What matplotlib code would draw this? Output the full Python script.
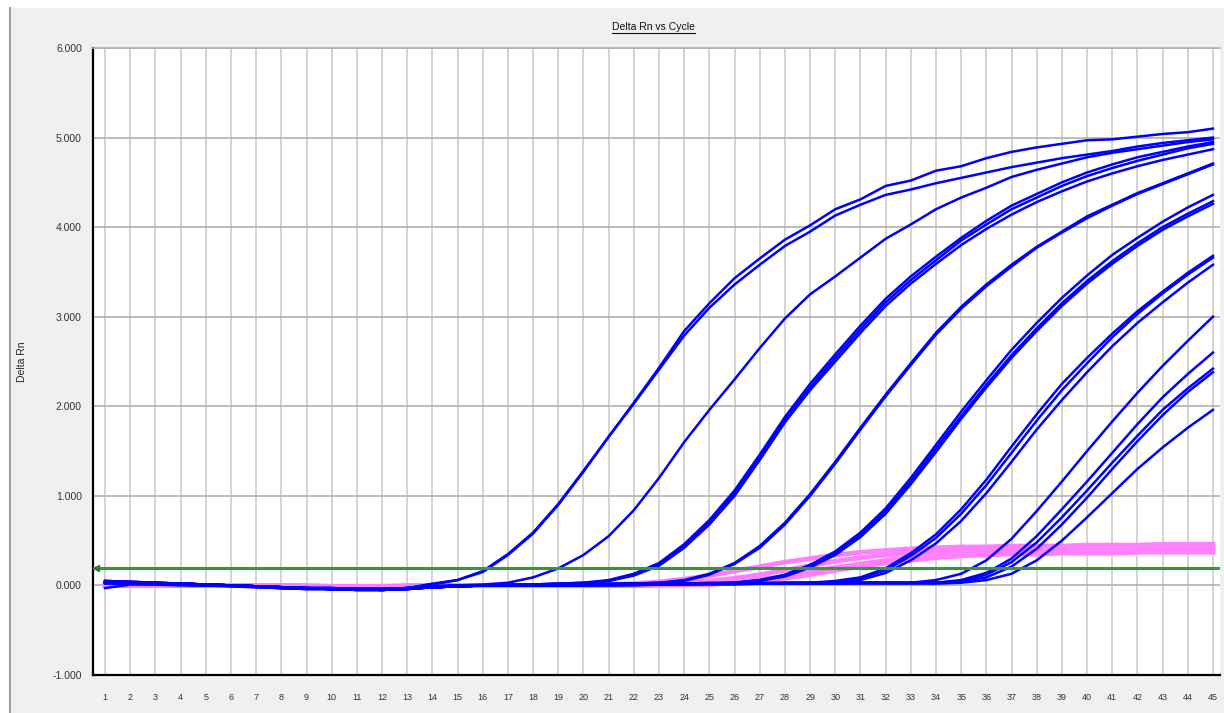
import numpy as np
import matplotlib.pyplot as plt
from matplotlib.patches import Rectangle
from matplotlib.lines import Line2D
from matplotlib.ticker import FormatStrFormatter

# Delta Rn per cycle (1..45), one list per well
cycles = np.arange(1, 46)
threshold = 0.2

A1 = [0.05, 0.04, 0.03, 0.02, 0.01,
      0.00, -0.01, -0.02, -0.03, -0.04,
      -0.05, -0.05, -0.03, 0.01, 0.06,
      0.15, 0.34, 0.58, 0.90, 1.27,
      1.66, 2.04, 2.43, 2.84, 3.15,
      3.43, 3.65, 3.86, 4.02, 4.20,
      4.31, 4.46, 4.52, 4.63, 4.68,
      4.77, 4.84, 4.89, 4.93, 4.97,
      4.98, 5.01, 5.04, 5.06, 5.10]
A2 = [0.04, 0.03, 0.03, 0.02, 0.01,
      0.00, -0.01, -0.03, -0.04, -0.04,
      -0.05, -0.05, -0.03, 0.02, 0.06,
      0.16, 0.35, 0.59, 0.91, 1.28,
      1.66, 2.03, 2.41, 2.79, 3.10,
      3.36, 3.58, 3.79, 3.95, 4.13,
      4.25, 4.36, 4.42, 4.49, 4.55,
      4.61, 4.67, 4.72, 4.77, 4.81,
      4.85, 4.90, 4.94, 4.97, 5.00]
B1 = [0.04, 0.04, 0.03, 0.02, 0.01,
      0.00, -0.01, -0.02, -0.03, -0.04,
      -0.04, -0.05, -0.03, -0.01, 0.00,
      0.01, 0.03, 0.09, 0.19, 0.34,
      0.55, 0.84, 1.20, 1.60, 1.96,
      2.30, 2.65, 2.98, 3.25, 3.45,
      3.66, 3.87, 4.03, 4.20, 4.33,
      4.44, 4.56, 4.64, 4.71, 4.78,
      4.83, 4.87, 4.91, 4.95, 4.98]
C1 = [0.05, 0.04, 0.03, 0.02, 0.01,
      -0.01, -0.02, -0.03, -0.04, -0.04,
      -0.05, -0.05, -0.04, -0.01, 0.00,
      0.00, 0.01, 0.01, 0.02, 0.03,
      0.06, 0.13, 0.25, 0.46, 0.73,
      1.06, 1.46, 1.88, 2.25, 2.58,
      2.90, 3.20, 3.45, 3.67, 3.88,
      4.07, 4.24, 4.37, 4.50, 4.61,
      4.70, 4.78, 4.84, 4.90, 4.95]
C2 = [0.04, 0.03, 0.02, 0.02, 0.01,
      0.00, -0.01, -0.03, -0.03, -0.04,
      -0.05, -0.05, -0.03, -0.01, 0.00,
      0.00, 0.01, 0.01, 0.02, 0.03,
      0.05, 0.12, 0.24, 0.44, 0.71,
      1.03, 1.43, 1.85, 2.21, 2.54,
      2.86, 3.16, 3.41, 3.63, 3.85,
      4.03, 4.20, 4.33, 4.46, 4.57,
      4.66, 4.74, 4.81, 4.88, 4.93]
C3 = [0.03, 0.03, 0.02, 0.01, 0.01,
      0.00, -0.02, -0.03, -0.04, -0.04,
      -0.04, -0.05, -0.04, -0.02, 0.00,
      0.00, 0.00, 0.01, 0.02, 0.02,
      0.05, 0.11, 0.22, 0.42, 0.68,
      1.00, 1.40, 1.82, 2.18, 2.50,
      2.82, 3.12, 3.37, 3.59, 3.80,
      3.98, 4.14, 4.28, 4.40, 4.51,
      4.60, 4.68, 4.75, 4.81, 4.87]
D1 = [0.04, 0.03, 0.02, 0.02, 0.01,
      0.00, -0.01, -0.02, -0.03, -0.04,
      -0.04, -0.05, -0.04, -0.02, -0.01,
      0.00, 0.00, 0.01, 0.01, 0.01,
      0.02, 0.02, 0.03, 0.06, 0.13,
      0.25, 0.44, 0.70, 1.02, 1.38,
      1.76, 2.13, 2.48, 2.82, 3.11,
      3.36, 3.58, 3.78, 3.95, 4.12,
      4.25, 4.38, 4.49, 4.60, 4.71]
D2 = [0.03, 0.03, 0.02, 0.01, 0.00,
      0.00, -0.01, -0.02, -0.03, -0.03,
      -0.04, -0.04, -0.03, -0.02, -0.01,
      0.00, 0.00, 0.00, 0.01, 0.01,
      0.01, 0.02, 0.03, 0.05, 0.12,
      0.24, 0.42, 0.68, 1.00, 1.36,
      1.74, 2.11, 2.46, 2.80, 3.09,
      3.34, 3.56, 3.77, 3.94, 4.10,
      4.24, 4.37, 4.48, 4.59, 4.70]
E1 = [0.05, 0.04, 0.03, 0.02, 0.01,
      0.00, -0.01, -0.02, -0.03, -0.04,
      -0.05, -0.05, -0.04, -0.02, -0.01,
      0.00, 0.00, 0.01, 0.01, 0.01,
      0.02, 0.02, 0.02, 0.02, 0.03,
      0.03, 0.06, 0.12, 0.23, 0.38,
      0.59, 0.86, 1.20, 1.57, 1.94,
      2.29, 2.63, 2.93, 3.21, 3.46,
      3.69, 3.88, 4.06, 4.22, 4.36]
E2 = [0.04, 0.03, 0.02, 0.02, 0.01,
      0.00, -0.01, -0.02, -0.03, -0.04,
      -0.04, -0.05, -0.04, -0.02, -0.01,
      0.00, 0.00, 0.00, 0.01, 0.01,
      0.01, 0.02, 0.02, 0.02, 0.02,
      0.03, 0.06, 0.11, 0.21, 0.36,
      0.56, 0.83, 1.16, 1.53, 1.89,
      2.24, 2.57, 2.87, 3.15, 3.40,
      3.62, 3.82, 4.00, 4.15, 4.29]
E3 = [0.03, 0.03, 0.02, 0.01, 0.01,
      0.00, -0.01, -0.03, -0.03, -0.04,
      -0.04, -0.04, -0.03, -0.02, -0.01,
      0.00, 0.00, 0.00, 0.00, 0.01,
      0.01, 0.01, 0.02, 0.02, 0.02,
      0.03, 0.05, 0.10, 0.20, 0.34,
      0.54, 0.80, 1.13, 1.49, 1.86,
      2.21, 2.54, 2.84, 3.12, 3.37,
      3.59, 3.79, 3.97, 4.12, 4.26]
F1 = [0.04, 0.03, 0.02, 0.02, 0.01,
      0.00, -0.01, -0.02, -0.03, -0.04,
      -0.04, -0.05, -0.04, -0.02, -0.01,
      0.00, 0.00, 0.00, 0.01, 0.01,
      0.01, 0.02, 0.02, 0.02, 0.02,
      0.02, 0.03, 0.03, 0.03, 0.05,
      0.09, 0.19, 0.36, 0.57, 0.85,
      1.18, 1.55, 1.91, 2.25, 2.54,
      2.81, 3.06, 3.28, 3.49, 3.68]
F2 = [0.03, 0.03, 0.02, 0.01, 0.01,
      0.00, -0.01, -0.02, -0.03, -0.03,
      -0.04, -0.04, -0.03, -0.02, -0.01,
      0.00, 0.00, 0.00, 0.00, 0.01,
      0.01, 0.01, 0.02, 0.02, 0.02,
      0.02, 0.02, 0.03, 0.03, 0.04,
      0.08, 0.17, 0.33, 0.53, 0.80,
      1.12, 1.48, 1.84, 2.18, 2.48,
      2.77, 3.03, 3.26, 3.47, 3.66]
F3 = [0.03, 0.02, 0.02, 0.01, 0.00,
      0.00, -0.01, -0.02, -0.03, -0.03,
      -0.04, -0.04, -0.03, -0.02, -0.01,
      0.00, 0.00, 0.00, 0.00, 0.00,
      0.01, 0.01, 0.01, 0.02, 0.02,
      0.02, 0.02, 0.02, 0.02, 0.03,
      0.06, 0.14, 0.28, 0.47, 0.72,
      1.03, 1.38, 1.74, 2.07, 2.38,
      2.67, 2.93, 3.16, 3.38, 3.58]
G1 = [0.04, 0.03, 0.02, 0.02, 0.01,
      0.00, -0.01, -0.02, -0.03, -0.04,
      -0.04, -0.05, -0.04, -0.02, -0.01,
      0.00, 0.00, 0.00, 0.01, 0.01,
      0.01, 0.02, 0.02, 0.02, 0.02,
      0.02, 0.02, 0.03, 0.03, 0.03,
      0.03, 0.03, 0.03, 0.06, 0.13,
      0.28, 0.52, 0.83, 1.16, 1.50,
      1.83, 2.15, 2.45, 2.73, 3.00]
G2 = [0.03, 0.03, 0.02, 0.01, 0.01,
      0.00, -0.01, -0.02, -0.03, -0.03,
      -0.04, -0.04, -0.03, -0.02, -0.01,
      0.00, 0.00, 0.00, 0.00, 0.01,
      0.01, 0.01, 0.02, 0.02, 0.02,
      0.02, 0.02, 0.02, 0.03, 0.03,
      0.03, 0.03, 0.03, 0.03, 0.06,
      0.14, 0.30, 0.55, 0.85, 1.16,
      1.48, 1.80, 2.10, 2.36, 2.60]
G3 = [0.03, 0.02, 0.02, 0.01, 0.00,
      0.00, -0.01, -0.02, -0.03, -0.04,
      -0.04, -0.05, -0.04, -0.02, -0.01,
      0.00, 0.00, 0.00, 0.00, 0.00,
      0.01, 0.01, 0.01, 0.02, 0.02,
      0.02, 0.02, 0.02, 0.02, 0.03,
      0.03, 0.03, 0.03, 0.03, 0.05,
      0.12, 0.26, 0.48, 0.76, 1.06,
      1.37, 1.67, 1.96, 2.20, 2.42]
G4 = [0.02, 0.02, 0.01, 0.01, 0.00,
      0.00, -0.01, -0.02, -0.03, -0.03,
      -0.04, -0.04, -0.03, -0.02, -0.01,
      0.00, 0.00, 0.00, 0.00, 0.00,
      0.00, 0.01, 0.01, 0.01, 0.02,
      0.02, 0.02, 0.02, 0.02, 0.02,
      0.03, 0.03, 0.03, 0.03, 0.04,
      0.09, 0.21, 0.41, 0.68, 0.98,
      1.30, 1.61, 1.90, 2.16, 2.38]
G5 = [-0.03, 0.01, 0.01, 0.00, 0.00,
      -0.01, -0.01, -0.02, -0.03, -0.03,
      -0.04, -0.04, -0.03, -0.02, -0.01,
      0.00, 0.00, 0.00, 0.00, 0.00,
      0.00, 0.00, 0.01, 0.01, 0.01,
      0.01, 0.02, 0.02, 0.02, 0.02,
      0.02, 0.02, 0.02, 0.02, 0.03,
      0.06, 0.13, 0.28, 0.50, 0.76,
      1.03, 1.30, 1.54, 1.76, 1.96]

# low plateau wells (pink)
P1 = [0.00, 0.00, 0.00, 0.00, 0.00,
      0.00, -0.01, -0.01, -0.01, -0.01,
      -0.01, -0.01, -0.01, 0.00, 0.00,
      0.00, 0.00, 0.00, 0.00, 0.00,
      0.01, 0.02, 0.04, 0.07, 0.11,
      0.16, 0.21, 0.26, 0.30, 0.34,
      0.37, 0.39, 0.41, 0.42, 0.43,
      0.43, 0.44, 0.44, 0.44, 0.45,
      0.45, 0.45, 0.46, 0.46, 0.46]
P2 = [0.00, 0.00, 0.00, 0.00, 0.00,
      0.00, 0.00, -0.01, -0.01, -0.01,
      -0.01, -0.01, 0.00, 0.00, 0.00,
      0.00, 0.00, 0.00, 0.00, 0.00,
      0.00, 0.01, 0.02, 0.03, 0.05,
      0.08, 0.12, 0.17, 0.22, 0.27,
      0.31, 0.34, 0.36, 0.38, 0.39,
      0.40, 0.40, 0.41, 0.41, 0.41,
      0.42, 0.42, 0.42, 0.42, 0.43]
P3 = [0.00, 0.00, 0.00, 0.00, 0.00,
      0.00, 0.00, 0.00, -0.01, -0.01,
      -0.01, -0.01, -0.01, 0.00, 0.00,
      0.00, 0.00, 0.00, 0.00, 0.00,
      0.00, 0.00, 0.01, 0.01, 0.02,
      0.04, 0.07, 0.10, 0.15, 0.20,
      0.24, 0.28, 0.31, 0.33, 0.35,
      0.36, 0.37, 0.38, 0.38, 0.39,
      0.39, 0.39, 0.40, 0.40, 0.40]
P4 = [0.00, 0.00, 0.00, 0.00, 0.00,
      0.00, 0.00, 0.00, 0.00, -0.01,
      -0.01, -0.01, -0.01, 0.00, 0.00,
      0.00, 0.00, 0.00, 0.00, 0.00,
      0.00, 0.00, 0.00, 0.01, 0.01,
      0.03, 0.05, 0.08, 0.12, 0.17,
      0.21, 0.25, 0.28, 0.31, 0.33,
      0.34, 0.35, 0.35, 0.36, 0.36,
      0.36, 0.37, 0.37, 0.37, 0.37]

blue_wells = [A1, A2, B1, C1, C2, C3, D1, D2, E1, E2, E3,
              F1, F2, F3, G1, G2, G3, G4, G5]
pink_wells = [P1, P2, P3, P4]

plt.rcParams['font.family'] = ['Liberation Sans', 'DejaVu Sans']

W, H = 1224, 713
fig = plt.figure(figsize=(W / 100, H / 100), dpi=100, facecolor='white')

# grey panel with darker left border, white strip on top/left
fig.patches.append(Rectangle((9 / W, 0), 1, (H - 8) / H, transform=fig.transFigure,
                             facecolor='#f0f0f0', edgecolor='none', zorder=-5))
fig.add_artist(Line2D([10 / W, 10 / W], [0, (H - 8) / H], color='#a0a0a0', lw=1.5, zorder=-4))

ax = fig.add_axes([93 / W, 38 / H, 1127 / W, 627 / H])
ax.set_zorder(1)
ax.set_facecolor('white')

for w in pink_wells:
    ax.plot(cycles, w, color='#ff80ff', lw=3.4, zorder=2)
for w in blue_wells:
    ax.plot(cycles, w, color='#0000ff', lw=1.8, zorder=3)

ax.axhline(threshold, color='#339933', lw=2.2, zorder=4)
ax.plot([0.62], [threshold], marker='<', color='#2a7a2a', markersize=4, clip_on=False, zorder=5)

ax.set_xlim(0.52, 45.28)
ax.set_ylim(-1, 6)
ax.set_xticks(cycles)
ax.set_yticks(np.arange(-1, 7))
ax.yaxis.set_major_formatter(FormatStrFormatter('%.3f'))

ax.set_axisbelow(True)
ax.grid(axis='x', color='#cccccc', lw=1.2)
ax.grid(axis='y', color='#b0b0b0', lw=1.2)

ax.spines['right'].set_visible(False)
ax.spines['top'].set_color('#b0b0b0')
ax.spines['top'].set_linewidth(1.2)
for s in ['left', 'bottom']:
    ax.spines[s].set_color('black')
    ax.spines[s].set_linewidth(1.6)

ax.tick_params(axis='y', length=0, pad=8, labelsize=7.5, labelcolor='#333333')
ax.tick_params(axis='x', length=0, pad=13, labelsize=6.5, labelcolor='#333333')

fig.text(22 / W, 1 - 362 / H, 'Delta Rn', rotation=90, ha='center', va='center',
         fontsize=7.5, color='#222222')
title = fig.text(653 / W, 1 - 27 / H, 'Delta Rn vs Cycle', ha='center', va='center',
                 fontsize=7.5, color='#111111')

# underline the title
fig.canvas.draw()
bb = title.get_window_extent().transformed(fig.transFigure.inverted())
fig.add_artist(Line2D([bb.x0, bb.x1], [bb.y0 - 1 / H, bb.y0 - 1 / H], color='#111111', lw=0.8))

fig.savefig('out.png', dpi=100, facecolor=fig.get_facecolor())
